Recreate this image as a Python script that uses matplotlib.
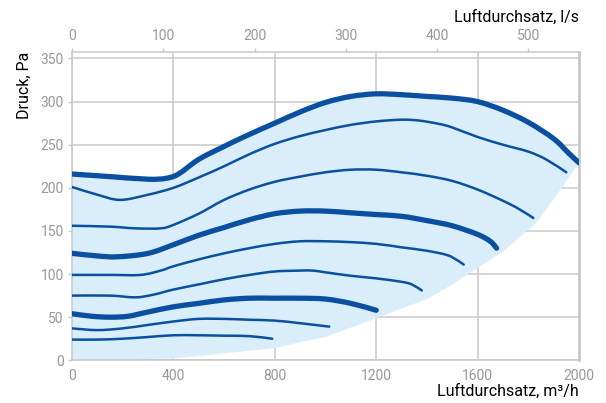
import numpy as np
import matplotlib
matplotlib.use('Agg')
import matplotlib.pyplot as plt
from matplotlib.path import Path
from matplotlib.patches import PathPatch

plt.rcParams['font.family'] = ['Roboto', 'DejaVu Sans']

# Kennlinien: Luftdurchsatz (m3/h) und Druck (Pa), von oben nach unten
kurve_1_x = [0, 150, 300, 370, 420, 500, 600, 700, 800, 900, 1000, 1100, 1200, 1300, 1400, 1500, 1600, 1700, 1800, 1900, 1960, 2000]
kurve_1_y = [216, 213, 210, 211, 216, 233, 248, 262, 275, 288, 299, 306, 309, 308, 306, 304, 300, 290, 276, 257, 240, 229]

kurve_2_x = [0, 100, 190, 300, 400, 500, 600, 700, 800, 900, 1000, 1100, 1200, 1300, 1370, 1450, 1500, 1600, 1700, 1800, 1870, 1950]
kurve_2_y = [201, 192, 186, 192, 200, 212, 225, 239, 251, 260, 267, 273, 277, 279, 278, 274, 270, 259, 250, 242, 233, 218]

kurve_3_x = [0, 150, 250, 350, 400, 500, 600, 700, 800, 900, 1000, 1100, 1200, 1300, 1400, 1500, 1600, 1700, 1760, 1820]
kurve_3_y = [156, 155, 153, 153, 157, 170, 186, 198, 207, 213, 218, 221, 221, 218, 214, 208, 198, 185, 176, 165]

kurve_4_x = [0, 100, 180, 300, 400, 500, 600, 700, 800, 900, 1000, 1100, 1200, 1300, 1400, 1500, 1600, 1650, 1675]
kurve_4_y = [124, 121, 120, 124, 134, 145, 154, 163, 170, 173, 173, 171, 169, 167, 162, 156, 146, 138, 130]

kurve_5_x = [0, 150, 270, 350, 400, 500, 600, 700, 800, 900, 1000, 1100, 1200, 1300, 1400, 1480, 1520, 1545]
kurve_5_y = [99, 99, 99, 104, 109, 117, 124, 130, 135, 138, 138, 137, 135, 131, 127, 122, 116, 111]

kurve_6_x = [0, 150, 250, 320, 400, 500, 600, 700, 800, 900, 950, 1000, 1100, 1200, 1300, 1340, 1380]
kurve_6_y = [75, 75, 73, 76, 82, 88, 94, 99, 103, 104, 104, 102, 98, 95, 91, 88, 81]

kurve_7_x = [0, 80, 150, 220, 300, 400, 500, 600, 700, 800, 900, 1000, 1100, 1200]
kurve_7_y = [54, 51, 50, 51, 56, 62, 66, 70, 72, 72, 72, 71, 66, 58]

kurve_8_x = [0, 100, 200, 300, 400, 500, 600, 700, 800, 900, 1015]
kurve_8_y = [37, 35, 37, 41, 45, 48, 48, 47, 46, 43, 39]

kurve_9_x = [0, 100, 200, 300, 400, 500, 600, 700, 790]
kurve_9_y = [24, 24, 25, 27, 29, 29, 28.5, 28, 25]

# untere Grenze des Arbeitsbereichs
grenze_x = [0, 400, 800, 900, 1000, 1100, 1200, 1300, 1400, 1500, 1600, 1700, 1830, 1920, 2000]
grenze_y = [0, 2, 14, 21, 27, 38, 49, 60, 71, 88, 107, 126, 159, 195, 229]

kurven = [
    (kurve_1_x, kurve_1_y, True),
    (kurve_2_x, kurve_2_y, False),
    (kurve_3_x, kurve_3_y, False),
    (kurve_4_x, kurve_4_y, True),
    (kurve_5_x, kurve_5_y, False),
    (kurve_6_x, kurve_6_y, False),
    (kurve_7_x, kurve_7_y, True),
    (kurve_8_x, kurve_8_y, False),
    (kurve_9_x, kurve_9_y, False),
]

blau = '#0b4fa0'
hellblau = '#d9eefa'
grau = '#c9c9c9'
textgrau = '#989898'


def glatt_pfad(x, y):
    # Bezier-Pfad durch alle Punkte (Catmull-Rom-Tangenten)
    p = np.column_stack([x, y]).astype(float)
    n = len(p)
    verts = [p[0]]
    codes = [Path.MOVETO]
    for i in range(n - 1):
        p0 = p[max(i - 1, 0)]
        p1 = p[i]
        p2 = p[i + 1]
        p3 = p[min(i + 2, n - 1)]
        verts += [p1 + (p2 - p0) / 6, p2 - (p3 - p1) / 6, p2]
        codes += [Path.CURVE4] * 3
    return np.array(verts), codes


fig = plt.figure(figsize=(6.06, 4.03), dpi=100)
ax = fig.add_axes([0.1188, 0.106, 0.8366, 0.766])

# Fläche zwischen oberster Kennlinie und unterer Grenze
v_oben, c_oben = glatt_pfad(kurve_1_x, kurve_1_y)
v_unten = np.column_stack([grenze_x[::-1], grenze_y[::-1]])
v_flaeche = np.vstack([v_oben, v_unten, v_oben[:1]])
c_flaeche = c_oben + [Path.LINETO] * len(v_unten) + [Path.CLOSEPOLY]
ax.add_patch(PathPatch(Path(v_flaeche, c_flaeche), facecolor=hellblau, lw=0, zorder=1))

for kx, ky, dick in kurven:
    v, c = glatt_pfad(kx, ky)
    ax.add_patch(PathPatch(Path(v, c), facecolor='none', edgecolor=blau,
                           lw=3.8 if dick else 1.8, capstyle='round',
                           joinstyle='round', zorder=3))

ax.set_xlim(0, 2000)
ax.set_ylim(0, 358)
ax.set_xticks(np.arange(0, 2001, 400))
ax.set_yticks(np.arange(0, 351, 50))
ax.grid(True, color=grau, lw=1.1, zorder=0)
ax.set_axisbelow(True)
for s in ax.spines.values():
    s.set_color(grau)
    s.set_linewidth(1.1)
ax.spines['right'].set_linewidth(2)
ax.tick_params(axis='x', length=0, pad=6, labelsize=10, labelcolor=textgrau)
ax.tick_params(axis='y', length=3, width=1, color=grau, pad=3, labelsize=10, labelcolor=textgrau)

# obere Achse in l/s
sec = ax.secondary_xaxis('top', functions=(lambda v: v / 3.6, lambda v: v * 3.6))
sec.set_xticks(np.arange(0, 501, 100))
sec.tick_params(length=3, width=1, color=grau, pad=3, labelsize=10, labelcolor=textgrau)
sec.spines['top'].set_visible(False)

fig.text(0.9554, 0.01, 'Luftdurchsatz, m³/h', ha='right', va='bottom', fontsize=11.5, color='black')
fig.text(0.9554, 0.957, 'Luftdurchsatz, l/s', ha='right', va='center', fontsize=11.5, color='black')
fig.text(0.04, 0.872, 'Druck, Pa', rotation=90, ha='center', va='top', fontsize=11.5, color='black')

fig.savefig('out.png', dpi=100)
